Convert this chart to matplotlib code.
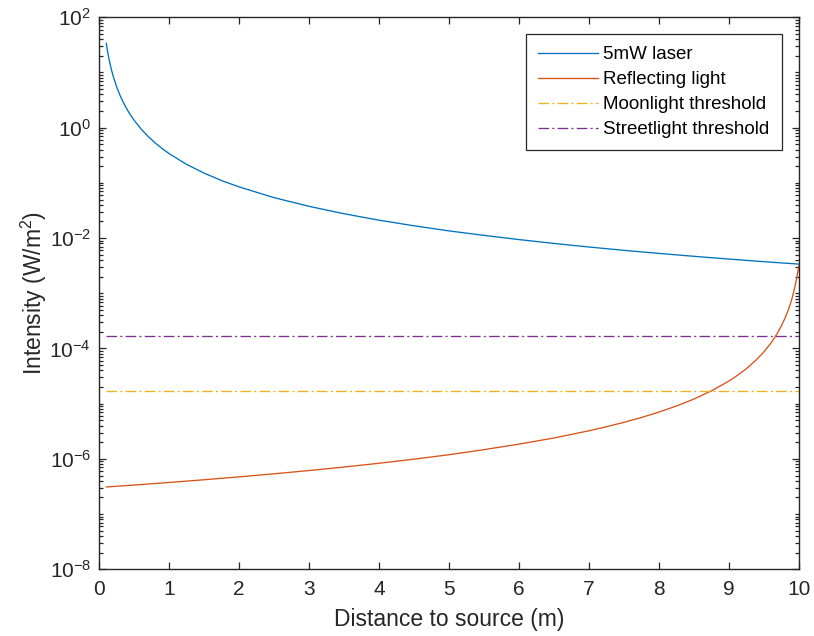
import numpy as np
import matplotlib
matplotlib.use('Agg')
import matplotlib.pyplot as plt
from matplotlib.ticker import FixedLocator, NullFormatter

# distance to source (m) and intensities (W/m^2)
laser_dist = [0.1, 0.11, 0.12, 0.13, 0.15, 0.175, 0.2, 0.25, 0.3, 0.35, 0.4,
              0.45, 0.5, 0.6, 0.7, 0.8, 0.9, 1.0, 1.25, 1.5, 1.75, 2.0, 2.5,
              3.0, 3.5, 4.0, 4.5, 5.0, 5.5, 6.0, 6.5, 7.0, 7.5, 8.0, 8.5, 9.0,
              9.5, 10.0]
laser_int = [33.8, 27.9, 23.5, 20.0, 15.0, 11.0, 8.45, 5.41, 3.76, 2.76, 2.11,
             1.67, 1.35, 0.94, 0.69, 0.528, 0.417, 0.338, 0.216, 0.150, 0.110,
             0.0845, 0.054, 0.0376, 0.0276, 0.0211, 0.0167, 0.0135, 0.0112,
             0.0094, 0.0080, 0.0069, 0.0060, 0.00528, 0.00468, 0.00417,
             0.00374, 0.00338]

refl_dist = [0.1, 0.5, 1.0, 1.5, 2.0, 2.5, 3.0, 3.5, 4.0, 4.5, 5.0, 5.5, 6.0,
             6.5, 7.0, 7.25, 7.5, 7.75, 8.0, 8.25, 8.5, 8.75, 9.0, 9.1, 9.25,
             9.4, 9.5, 9.6, 9.65, 9.7, 9.75, 9.8, 9.85, 9.875, 9.9, 9.925,
             9.95, 9.975, 10.0]
refl_int = [3.1e-7, 3.36e-7, 3.74e-7, 4.19e-7, 4.73e-7, 5.37e-7, 6.15e-7,
            7.12e-7, 8.33e-7, 9.89e-7, 1.19e-6, 1.47e-6, 1.85e-6, 2.39e-6,
            3.23e-6, 3.82e-6, 4.59e-6, 5.61e-6, 7.03e-6, 9.06e-6, 1.21e-5,
            1.70e-5, 2.56e-5, 3.1e-5, 4.29e-5, 6.33e-5, 8.61e-5, 1.24e-4,
            1.53e-4, 1.94e-4, 2.53e-4, 3.44e-4, 4.96e-4, 6.12e-4, 7.75e-4,
            1.01e-3, 1.38e-3, 1.98e-3, 3.1e-3]

thresh_dist = [0.1, 10.0]
moonlight = 1.7e-5
streetlight = 1.7e-4

labels = ['5mW laser', 'Reflecting light', 'Moonlight threshold', 'Streetlight threshold']


def main():
    plt.rcParams['font.family'] = ['Liberation Sans', 'DejaVu Sans']
    plt.rcParams['mathtext.default'] = 'regular'
    axcol = '#262626'

    fig = plt.figure(figsize=(8.14, 6.36), dpi=100)
    ax = fig.add_axes([0.122, 0.1049, 0.8592, 0.8679])

    dash = (0, (8, 2.5, 1.5, 2.5))
    ax.plot(laser_dist, laser_int, color='#0072BD', lw=0.95, label=labels[0])
    ax.plot(refl_dist, refl_int, color='#D95319', lw=0.95, label=labels[1])
    ax.plot(thresh_dist, [moonlight] * 2, color='#EDB120', lw=0.95, ls=dash, label=labels[2])
    ax.plot(thresh_dist, [streetlight] * 2, color='#7E2F8E', lw=0.95, ls=dash, label=labels[3])

    ax.set_yscale('log')
    ax.set_xlim(0, 10)
    ax.set_ylim(1e-8, 1e2)
    ax.set_xticks(range(0, 11))

    majors = [10.0 ** p for p in range(-8, 3, 2)]
    ax.yaxis.set_major_locator(FixedLocator(majors))
    ax.set_yticklabels(['$10^{%d}$' % p for p in range(-8, 3, 2)])
    minors = [k * 10.0 ** p for p in range(-8, 2) for k in range(1, 10)
              if not (k == 1 and p % 2 == 0)]
    ax.yaxis.set_minor_locator(FixedLocator(minors))
    ax.yaxis.set_minor_formatter(NullFormatter())

    ax.tick_params(which='both', direction='in', top=True, right=True,
                   colors=axcol, labelsize=15, width=0.9)
    ax.tick_params(which='major', length=5)
    ax.tick_params(which='minor', length=3)
    ax.tick_params(axis='x', pad=8)
    ax.tick_params(axis='y', pad=6)
    for s in ax.spines.values():
        s.set_color(axcol)
        s.set_linewidth(1.0)

    ax.set_xlabel('Distance to source (m)', fontsize=16.5, color=axcol, labelpad=6)
    ax.set_ylabel('Intensity (W/m$^2$)', fontsize=16.5, color=axcol, labelpad=0)

    leg = ax.legend(loc='upper right', bbox_to_anchor=(0.976, 0.970),
                    borderaxespad=0, fontsize=13.5, handlelength=3.2,
                    handletextpad=0.3, labelspacing=0.42, borderpad=0.65,
                    fancybox=False, framealpha=1)
    leg.get_frame().set_edgecolor(axcol)
    leg.get_frame().set_linewidth(0.9)
    for t in leg.get_texts():
        t.set_color('#000000')

    fig.savefig('out.png', dpi=100, facecolor='white')


if __name__ == '__main__':
    main()
